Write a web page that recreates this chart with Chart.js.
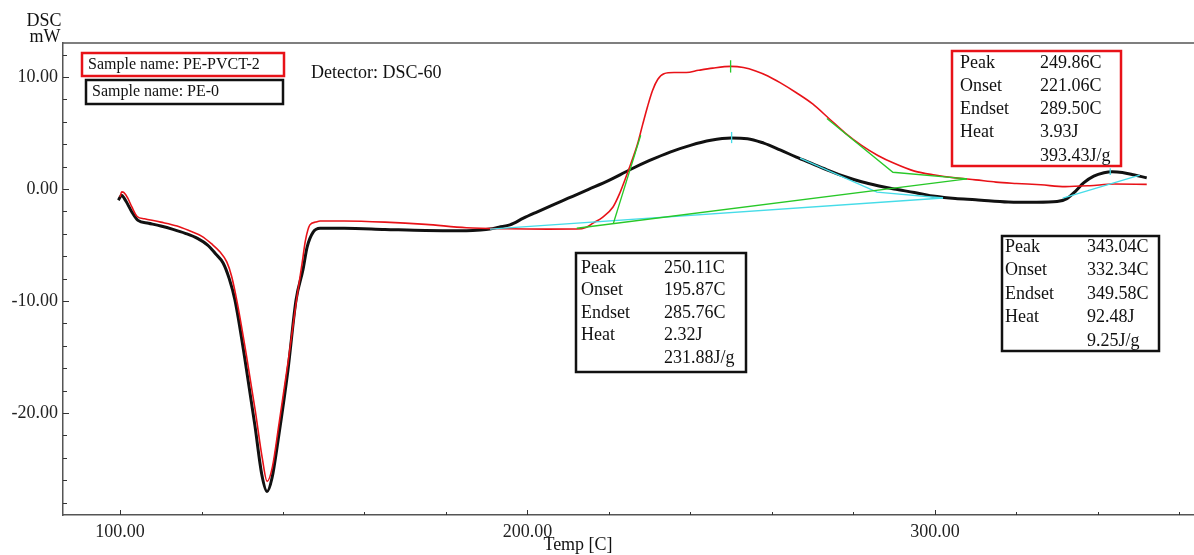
<!DOCTYPE html>
<html>
<head>
<meta charset="utf-8">
<title>DSC PE-0 / PE-PVCT-2</title>
<script src="https://cdn.jsdelivr.net/npm/chart.js@4.4.1/dist/chart.umd.min.js"></script>
<style>
  html, body { margin: 0; padding: 0; background: #fff; }
  canvas { display: block; }
</style>
</head>
<body>
<canvas id="dsc" width="1194" height="555"></canvas>
<script>
// --- Data ---
// PE-0 (black trace)
const pe0Temp = [99.6, 100.4, 101.0, 101.8, 102.9, 104.4, 107, 110, 113, 116, 119, 121.5, 123.5, 125.3, 126.8,
  128.2, 130.7, 133.1, 134.8, 136.1, 137.3, 138.8, 141.2, 143.2, 144.9, 145.9, 147.4, 149.1, 155, 165, 175,
  185, 188.5, 190.8, 193, 195.7, 199, 202.3, 206, 210, 215, 220, 225, 230, 235, 240, 245, 250, 254, 258, 262,
  266, 270, 274, 278, 282, 286, 290, 295, 300, 305, 310, 318, 325, 330, 332.4, 334.5, 336.5, 339, 341.5,
  343.5, 346, 349, 352];
const pe0Dsc = [-1.0, -0.55, -0.8, -1.3, -2.05, -2.8, -3.05, -3.3, -3.6, -3.95, -4.4, -5.0, -5.8, -6.6, -8.0,
  -9.9, -15.3, -21.1, -25.5, -27.0, -25.8, -22.4, -16.2, -9.9, -7.2, -5.2, -3.85, -3.5, -3.5, -3.6, -3.7,
  -3.72, -3.66, -3.57, -3.4, -3.2, -2.6, -2.05, -1.45, -0.82, -0.03, 0.77, 1.7, 2.55, 3.3, 3.9, 4.35, 4.55, 4.5,
  4.1, 3.5, 2.85, 2.25, 1.65, 1.1, 0.65, 0.3, 0.0, -0.3, -0.65, -0.85, -0.95, -1.15, -1.18, -1.12, -0.85, -0.2,
  0.55, 1.15, 1.45, 1.55, 1.48, 1.25, 1.0];

// PE-PVCT-2 (red trace)
const pvctTemp = [100.0, 100.4, 100.9, 101.9, 102.9, 104.2, 106, 110, 114, 117.2, 120, 122.5, 124.5, 126.2,
  127.4, 128.8, 131, 133.2, 134.9, 136.1, 137.4, 139, 141.3, 143.2, 144.7, 145.5, 146.6, 148, 149.1, 155, 165,
  175, 185, 195, 205, 212.1, 214.5, 216.1, 218.5, 221, 222.5, 224, 225.5, 227, 228.3, 229.5, 230.7, 232, 233.5,
  236, 239, 242, 245.5, 249.9, 253, 256, 259, 262, 266, 270, 274, 278, 282, 286, 290, 295, 300, 305, 310, 315,
  320, 326, 332, 338, 344, 352];
const pvctDsc = [-0.7, -0.25, -0.3, -0.8, -1.6, -2.45, -2.65, -2.95, -3.3, -3.75, -4.2, -4.9, -5.6, -6.5,
  -7.8, -10.2, -14.8, -19.8, -24.0, -26.1, -24.8, -21.0, -15.3, -10.2, -6.6, -4.6, -3.2, -2.95, -2.85, -2.85,
  -2.95, -3.15, -3.45, -3.55, -3.58, -3.57, -3.4, -3.04, -2.5, -1.6, -0.5, 0.9, 2.4, 4.0, 5.8, 7.4, 8.8, 9.8,
  10.3, 10.4, 10.4, 10.6, 10.8, 10.95, 10.85, 10.55, 10.1, 9.5, 8.6, 7.6, 6.3, 5.0, 3.9, 3.0, 2.3, 1.6, 1.25,
  1.0, 0.82, 0.62, 0.5, 0.38, 0.22, 0.3, 0.45, 0.42];

// analysis construction lines [temp, mW]
const pvctBaseline = [[212.1, -3.5], [307.9, 0.9]];
const pvctOnsetTangent = [[221.06, -3.1], [227.8, 4.8]];
const pvctEndTangent = [[273.5, 6.3], [289.7, 1.5], [307.9, 0.9]];
const pvctPeakMark = [[249.86, 10.4], [249.86, 11.5]];
const pe0Baseline = [[190.8, -3.57], [302, -0.8]];
const pe0EndTangent = [[266.9, 2.77], [285.8, -0.27], [302, -0.8]];
const pe0PeakMark = [[250.11, 4.1], [250.11, 5.1]];
const pe0Baseline2 = [[331.4, -0.8], [350.3, 1.25]];
const pe0PeakMark2 = [[343.04, 1.25], [343.04, 1.85]];

// tick / axis settings
const xMin = 86, xMax = 363.6, xStep = 20, xMajor = 100;
const yMin = -29.1, yMax = 13.04, yStep = 2, yMajor = 10;

// result tables
const rowNames = ['Peak', 'Onset', 'Endset', 'Heat', ''];
const pvctResult = ['249.86C', '221.06C', '289.50C', '3.93J', '393.43J/g'];
const pe0Result = ['250.11C', '195.87C', '285.76C', '2.32J', '231.88J/g'];
const pe0Result2 = ['343.04C', '332.34C', '349.58C', '92.48J', '9.25J/g'];

const SERIF = '"Liberation Serif", "Times New Roman", serif';
const RED = 'rgb(232, 18, 24)';
const GREEN = 'rgb(40, 200, 40)';
const CYAN = 'rgb(70, 220, 232)';

const toPoints = (xs, ys) => xs.map((x, i) => ({ x: x, y: ys[i] }));
const pairPoints = pairs => pairs.map(p => ({ x: p[0], y: p[1] }));

function guide(data, color, order) {
    return {
        data: pairPoints(data),
        borderColor: color,
        borderWidth: 1.3,
        pointRadius: 0,
        tension: 0,
        order: order
    };
}

// --- Decorations: frame top, inward ticks, titles and result boxes ---
function drawBox(ctx, x, y, w, h, color, lw) {
    ctx.strokeStyle = color;
    ctx.lineWidth = lw;
    ctx.strokeRect(x, y, w, h);
}

function drawTable(ctx, left, valueX, top, step, values) {
    ctx.fillStyle = '#111';
    ctx.textAlign = 'left';
    ctx.textBaseline = 'middle';
    ctx.font = '18px ' + SERIF;
    rowNames.forEach((name, i) => {
        ctx.fillText(name, left, top + i * step);
        ctx.fillText(values[i], valueX, top + i * step);
    });
}

const dscDecor = {
    id: 'dscDecor',
    afterDraw(chart) {
        const ctx = chart.ctx;
        const area = chart.chartArea;
        const xs = chart.scales.x;
        const ys = chart.scales.y;
        ctx.save();

        // top frame line
        ctx.strokeStyle = '#555';
        ctx.lineWidth = 1.5;
        ctx.beginPath();
        ctx.moveTo(area.left, area.top);
        ctx.lineTo(area.right, area.top);
        ctx.stroke();

        // ticks point into the plot
        ctx.strokeStyle = '#333';
        ctx.lineWidth = 1;
        ctx.beginPath();
        xs.ticks.forEach(t => {
            const px = Math.round(xs.getPixelForValue(t.value)) + 0.5;
            const len = t.value % xMajor === 0 ? 5 : 3;
            ctx.moveTo(px, area.bottom);
            ctx.lineTo(px, area.bottom - len);
        });
        ys.ticks.forEach(t => {
            const py = Math.round(ys.getPixelForValue(t.value)) + 0.5;
            const len = t.value % yMajor === 0 ? 6 : 4;
            ctx.moveTo(area.left, py);
            ctx.lineTo(area.left + len, py);
        });
        ctx.stroke();

        // axis titles
        ctx.fillStyle = '#111';
        ctx.font = '18px ' + SERIF;
        ctx.textAlign = 'center';
        ctx.textBaseline = 'middle';
        ctx.fillText('DSC', 44, 21);
        ctx.fillText('mW', 45, 37);
        ctx.fillText('Temp [C]', 578, 545);

        // sample names
        drawBox(ctx, 82, 53, 202, 23, RED, 2.5);
        drawBox(ctx, 86, 80, 197, 24, '#111', 2.5);
        ctx.fillStyle = '#111';
        ctx.font = '16px ' + SERIF;
        ctx.textAlign = 'left';
        ctx.fillText('Sample name: PE-PVCT-2', 88, 65);
        ctx.fillText('Sample name: PE-0', 92, 92);
        ctx.font = '18px ' + SERIF;
        ctx.fillText('Detector: DSC-60', 311, 73);

        // result tables
        drawBox(ctx, 952, 51, 169, 115, RED, 2.5);
        drawTable(ctx, 960, 1040, 63, 23.2, pvctResult);
        drawBox(ctx, 576, 253, 170, 119, '#111', 2.5);
        drawTable(ctx, 581, 664, 268, 22.5, pe0Result);
        drawBox(ctx, 1002, 236, 157, 115, '#111', 2.5);
        drawTable(ctx, 1005, 1087, 247, 23.5, pe0Result2);

        ctx.restore();
    }
};

new Chart(document.getElementById('dsc'), {
    type: 'line',
    data: {
        datasets: [
            guide(pvctBaseline, GREEN, 0),
            guide(pvctOnsetTangent, GREEN, 0),
            guide(pvctEndTangent, GREEN, 0),
            guide(pvctPeakMark, GREEN, 0),
            guide(pe0Baseline, CYAN, 0),
            guide(pe0EndTangent, CYAN, 0),
            guide(pe0PeakMark, CYAN, 0),
            guide(pe0Baseline2, CYAN, 0),
            guide(pe0PeakMark2, CYAN, 0),
            {
                label: 'PE-PVCT-2',
                data: toPoints(pvctTemp, pvctDsc),
                borderColor: RED,
                borderWidth: 1.6,
                pointRadius: 0,
                cubicInterpolationMode: 'monotone',
                order: 1
            },
            {
                label: 'PE-0',
                data: toPoints(pe0Temp, pe0Dsc),
                borderColor: '#111',
                borderWidth: 3,
                pointRadius: 0,
                cubicInterpolationMode: 'monotone',
                order: 2
            }
        ]
    },
    options: {
        responsive: false,
        animation: false,
        events: [],
        layout: { padding: { top: 43, right: 0, left: 0, bottom: 0 } },
        plugins: {
            legend: { display: false },
            tooltip: { enabled: false }
        },
        scales: {
            x: {
                type: 'linear',
                min: xMin,
                max: xMax,
                ticks: {
                    stepSize: xStep,
                    includeBounds: false,
                    autoSkip: false,
                    maxRotation: 0,
                    padding: 6,
                    color: '#222',
                    font: { family: SERIF, size: 18 },
                    callback: v => (v % xMajor === 0 ? v.toFixed(2) : '')
                },
                grid: { drawOnChartArea: false, drawTicks: false },
                border: { color: '#555', width: 1.5 },
                afterFit: s => { s.height = 40; }
            },
            y: {
                type: 'linear',
                min: yMin,
                max: yMax,
                ticks: {
                    stepSize: yStep,
                    includeBounds: false,
                    autoSkip: false,
                    padding: 5,
                    color: '#222',
                    font: { family: SERIF, size: 18 },
                    callback: v => (v % yMajor === 0 ? v.toFixed(2) : '')
                },
                grid: { drawOnChartArea: false, drawTicks: false },
                border: { color: '#555', width: 1.5 },
                afterFit: s => { s.width = 63; }
            }
        }
    },
    plugins: [dscDecor]
});
</script>
</body>
</html>
